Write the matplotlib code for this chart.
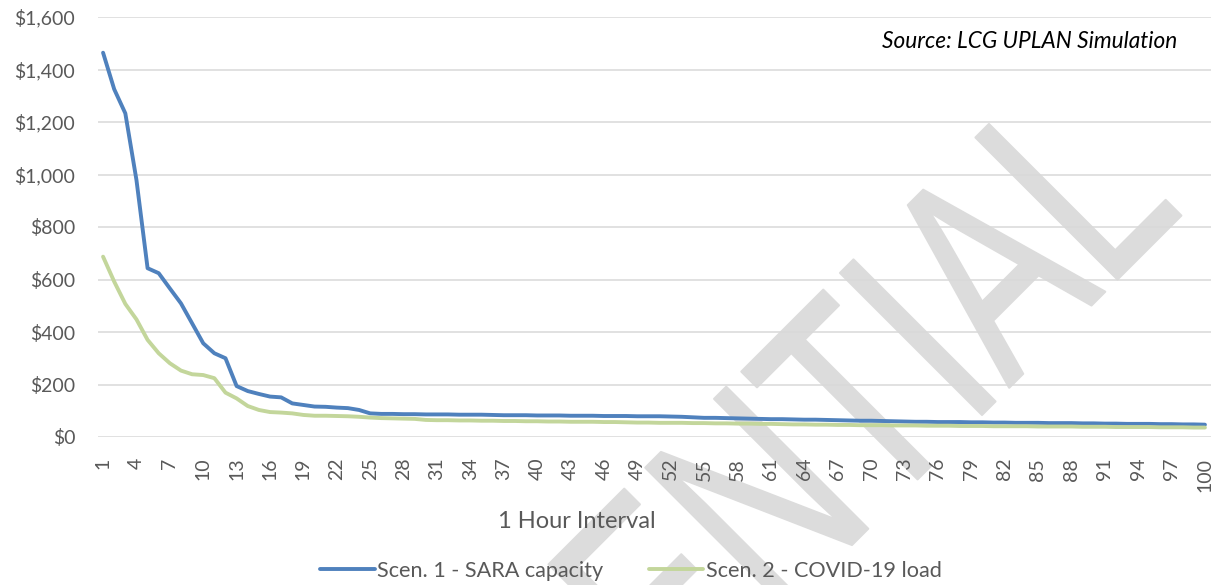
import numpy as np
import matplotlib
matplotlib.use("Agg")
import matplotlib.pyplot as plt
from matplotlib.textpath import TextPath
from matplotlib.patches import PathPatch
from matplotlib.font_manager import FontProperties
from matplotlib.transforms import Affine2D, IdentityTransform
from matplotlib.ticker import FuncFormatter

plt.rcParams["font.family"] = ["Lato", "DejaVu Sans"]

hours = np.arange(1, 101)

sara_capacity = [
    1464, 1325, 1233, 979, 643, 624, 566, 509, 433, 357,
    319, 300, 194, 175, 164, 154, 151, 128, 122, 116,
    115, 112, 110, 103, 90, 88, 88, 87, 87, 86,
    86, 86, 85, 85, 85, 84, 83, 83, 83, 82,
    82, 82, 81, 81, 81, 80, 80, 80, 79, 79,
    79, 78, 77, 75, 73, 73, 72, 71, 70, 69,
    68, 68, 67, 66, 66, 65, 64, 63, 62, 62,
    61, 60, 59, 58, 58, 57, 57, 57, 56, 56,
    55, 55, 54, 54, 54, 53, 53, 53, 52, 52,
    51, 51, 50, 50, 50, 49, 49, 48, 48, 47,
]

covid_load = [
    687, 592, 507, 448, 370, 319, 281, 253, 239, 236,
    224, 169, 147, 118, 103, 95, 93, 90, 84, 81,
    81, 80, 79, 77, 74, 72, 71, 70, 69, 65,
    64, 64, 63, 63, 62, 62, 61, 61, 60, 60,
    59, 59, 58, 58, 58, 57, 57, 56, 55, 55,
    54, 54, 54, 53, 53, 52, 52, 51, 51, 50,
    50, 49, 48, 48, 47, 47, 46, 46, 45, 45,
    45, 44, 44, 44, 43, 43, 43, 42, 42, 42,
    41, 41, 41, 41, 40, 40, 40, 40, 39, 39,
    39, 38, 38, 38, 38, 37, 37, 37, 36, 36,
]

series_names = ["Scen. 1 - SARA capacity", "Scen. 2 - COVID-19 load"]
series_colors = ["#4f81bd", "#c3d69b"]
text_color = "#595959"

W, H = 1220, 585
fig = plt.figure(figsize=(W / 100, H / 100), dpi=100)
fig.patch.set_facecolor("white")

# watermark behind the chart: condensed, turned 45 degrees,
# placed by the stem of its last letter
wm_text = "CONFIDENTIAL"
fp = FontProperties(family="Liberation Sans", weight="normal")
tp = TextPath((0, 0), wm_text, size=1, prop=fp)
head = TextPath((0, 0), wm_text[:-1], size=1, prop=fp).get_extents()
last = TextPath((0, 0), wm_text[-1], size=1, prop=fp).get_extents()
stem_x = head.x1 + last.x0 + 0.047
tr = (Affine2D().translate(-stem_x, 0).scale(205, 292)
      .rotate_deg(45).translate(1124, H - 273))
wm = PathPatch(tr.transform_path(tp), facecolor="#dcdcdc", edgecolor="#dcdcdc",
               lw=1.5, joinstyle="round", capstyle="round",
               transform=IdentityTransform(), zorder=-5)
fig.add_artist(wm)

ax = fig.add_axes([97.5 / W, 148 / H, 1113 / W, 420 / H])
ax.patch.set_visible(False)

for vals, name, col in zip([sara_capacity, covid_load], series_names, series_colors):
    ax.plot(hours, vals, color=col, lw=2.8, label=name, solid_capstyle="round")

ax.set_xlim(0.5, 100.5)
ax.set_ylim(0, 1600)
ax.set_yticks(np.arange(0, 1601, 200))
ax.yaxis.set_major_formatter(FuncFormatter(lambda v, p: f"${v:,.0f}"))
ax.set_xticks(hours[::3])
ax.set_xticklabels([str(h) for h in hours[::3]], rotation=90)
ax.grid(axis="y", color="#d9d9d9", lw=1.1)
ax.set_axisbelow(True)
for s in ax.spines.values():
    s.set_visible(False)
ax.tick_params(axis="y", length=0, pad=16, labelsize=14, labelcolor=text_color)
ax.tick_params(axis="x", length=0, pad=15, labelsize=14, labelcolor=text_color)

fig.text(1177 / W, (H - 42) / H, "Source: LCG UPLAN Simulation", ha="right",
         va="center", style="italic", fontsize=16.3, color="black")
fig.text(577 / W, (H - 522) / H, "1 Hour Interval", ha="center", va="center",
         fontsize=17, color=text_color)

leg = fig.legend(loc="center", bbox_to_anchor=(631 / W, (H - 571) / H), ncol=2,
                 frameon=False, fontsize=15.6, handlelength=2.5, handletextpad=0.12,
                 columnspacing=2.1, labelcolor=text_color)

fig.savefig("out.png", dpi=100)
